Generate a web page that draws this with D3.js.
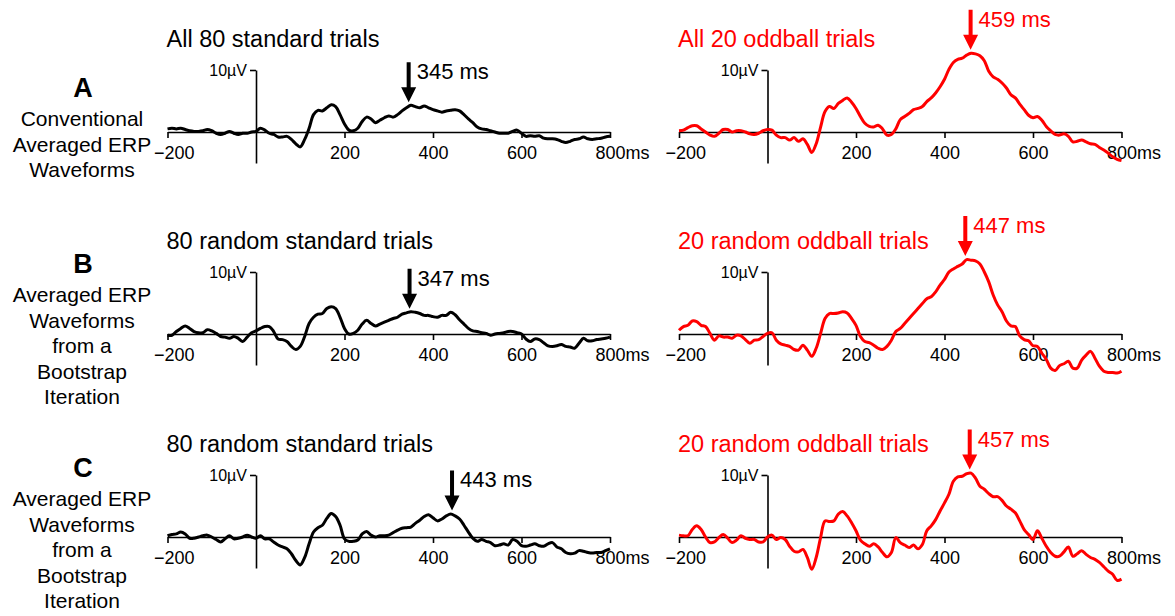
<!DOCTYPE html>
<html>
<head>
<meta charset="utf-8">
<script src="https://cdn.jsdelivr.net/npm/d3@7"></script>
<style>
body { margin:0; background:#fff; }
svg { display:block; font-family:"Liberation Sans", Arial, Helvetica, sans-serif; }
</style>
</head>
<body>
<svg width="1175" height="616"></svg>
<script>
// sample grid in ms, one value every 10 ms
var times = d3.range(-200, 801, 10)

var xTicks = [-200, 200, 400, 600, 800]

var rowLetters = ["A", "B", "C"]
var rowCaptions = [
    ["Conventional", "Averaged ERP", "Waveforms"],
    ["Averaged ERP", "Waveforms", "from a", "Bootstrap", "Iteration"],
    ["Averaged ERP", "Waveforms", "from a", "Bootstrap", "Iteration"]
]

var stdTitles = ["All 80 standard trials", "80 random standard trials", "80 random standard trials"]
var oddTitles = ["All 20 oddball trials", "20 random oddball trials", "20 random oddball trials"]

var stdPeaks = [345, 347, 443]
var oddPeaks = [459, 447, 457]
var stdPeakAmp = [4.3, 3.6, 3.8]
var oddPeakAmp = [12.8, 12.1, 10.4]

// microvolts, -200..800 ms
var stdA = [
    0.5, 0.6, 0.5, 0.6, 0.4, 0.2, 0.1, 0.1, 0.2, 0.4,
    0.2, -0.2, -0.4, -0.2, 0.1, -0.2, -0.4, -0.2, -0.2, 0,
    0.1, 0.6, 0.3, -0.2, -0.4, -0.8, -0.8, -0.7, -1.2, -1.9,
    -2.4, -1.2, 0.6, 2.8, 3.5, 3.4, 3.9, 4.4, 4.1, 2.8,
    1.3, 0.3, 0.2, 0.6, 1.7, 2.4, 2.1, 1.5, 1.9, 2.3,
    2.6, 2.4, 2.8, 3.4, 3.9, 4.3, 4.1, 3.9, 4.2, 3.9,
    3.6, 3.4, 3.2, 3.4, 3.5, 3.6, 3.4, 2.8, 2.1, 1.5,
    0.8, 0.5, 0.4, 0.2, 0, -0.2, -0.2, -0.2, 0.1, 0.3,
    -0.2, -0.7, -0.6, -0.7, -0.6, -1.0, -1.1, -1.1, -1.2, -1.5,
    -1.7, -1.5, -1.2, -1.1, -0.8, -1.1, -1.2, -1.1, -1.0, -0.8,
    -0.7
]
var oddA = [
    0.2, 0.3, 0.7, 1.0, 1.0, 0.5, 0, -0.5, -0.7, -0.2,
    0.4, 0.4, 0, 0.2, 0.2, 0, -0.3, -0.4, -0.2, 0.2,
    0.4, 0.3, -0.5, -0.9, -0.9, -1.3, -0.9, -1.5, -1.1, -2.0,
    -3.3, -1.9, 0.8, 3.3, 4.1, 3.8, 4.6, 5.1, 5.5, 4.8,
    3.8, 2.5, 1.4, 0.9, 0.8, 1.1, 0.5, -0.5, -0.4, 0.5,
    2.0, 2.5, 3.0, 3.6, 3.8, 4.1, 4.9, 5.5, 6.3, 7.3,
    8.5, 10.1, 11.2, 11.7, 11.9, 12.4, 12.7, 12.6, 12.3, 11.5,
    9.8, 8.9, 8.5, 7.9, 7.1, 6.0, 5.5, 4.5, 3.6, 2.7,
    2.3, 2.5, 1.9, 0.9, 0.2, -0.4, -0.5, -0.3, -0.7, -1.6,
    -1.5, -1.3, -1.6, -1.9, -2.0, -2.5, -2.9, -3.4, -4.0, -4.4,
    -4.6
]
var stdB = [
    -0.2, -0.2, 0.4, 0.9, 1.3, 0.9, 0.4, 0.2, 0.2, 0.7,
    0.5, 0.1, -0.4, -0.5, -0.7, -0.4, -0.7, -1.2, -0.5, 0.2,
    0.5, 0.9, 1.2, 1.2, 0.4, -0.8, -0.9, -1.2, -2.0, -2.5,
    -2.0, -0.4, 1.7, 2.7, 3.2, 3.3, 4.1, 4.4, 4.1, 2.7,
    0.9, 0, 0.1, 0.6, 1.6, 2.2, 1.7, 1.3, 1.6, 1.9,
    2.2, 2.5, 2.7, 3.2, 3.4, 3.6, 3.5, 3.3, 3.0, 3.0,
    2.8, 2.7, 3.0, 3.0, 3.5, 3.1, 2.3, 1.6, 0.9, 0.5,
    0.4, 0.2, 0.1, -0.2, 0, 0.1, 0.2, 0.4, 0.4, 0.2,
    0, -0.8, -1.2, -0.8, -0.9, -1.4, -1.9, -2.0, -1.9, -1.7,
    -2.0, -2.1, -2.3, -1.5, -0.7, -1.1, -1.1, -0.9, -0.8, -0.7,
    -0.5
]
var oddB = [
    0.6, 1.2, 1.4, 2.1, 2.0, 1.4, 1.2, 0.1, -1.0, -0.3,
    -0.5, -0.5, -0.7, -0.2, -0.3, -0.9, -1.5, -1.0, -0.9, -0.4,
    0.1, 0.2, -1.0, -1.6, -1.8, -2.0, -2.5, -2.6, -1.8, -2.6,
    -3.6, -2.3, 0.1, 2.5, 3.3, 3.3, 3.4, 3.6, 3.4, 2.5,
    1.4, -0.4, -1.2, -1.4, -1.8, -2.3, -2.5, -2.0, -1.0, 0.4,
    0.9, 1.7, 2.5, 3.3, 4.1, 4.9, 5.7, 6.0, 6.8, 7.9,
    8.8, 10.0, 10.5, 10.9, 11.3, 12.0, 11.9, 11.8, 11.3, 10.0,
    8.4, 6.3, 4.7, 3.6, 2.1, 1.3, 1.2, -0.3, -0.9, -1.1,
    -1.9, -2.0, -3.1, -4.1, -5.5, -5.9, -5.1, -4.8, -4.4, -5.5,
    -5.5, -4.2, -3.4, -2.8, -3.9, -5.2, -6.0, -6.2, -6.2, -6.3,
    -6.0
]
var stdC = [
    0.2, 0.4, 0.5, 0.8, 0.5, -0.2, -0.2, 0, 0.2, 0.3,
    0, -0.4, -0.8, -0.3, 0.2, -0.3, -0.2, 0, 0.3, 0,
    -0.2, 0.2, -0.3, -0.3, -0.8, -1.3, -1.6, -1.9, -2.7, -3.8,
    -4.5, -3.3, -1.1, 0.8, 1.5, 1.9, 3.0, 3.8, 3.3, 1.9,
    -0.3, -0.7, -0.7, -0.5, 0.5, 0.9, 0.3, 0, 0.2, 0.2,
    0.3, 0.7, 1.1, 1.4, 1.5, 1.6, 2.2, 2.7, 3.3, 3.6,
    3.1, 2.6, 2.9, 3.4, 3.7, 3.4, 2.9, 1.9, 0.8, -0.2,
    -0.7, -0.4, -0.7, -0.9, -1.4, -1.3, -1.1, -1.3, -0.4, -0.7,
    -1.4, -1.5, -1.3, -1.1, -1.4, -1.5, -1.1, -0.9, -1.6, -1.9,
    -2.5, -2.7, -2.6, -2.2, -2.3, -2.5, -2.6, -2.5, -2.5, -2.2,
    -1.9
]
var oddC = [
    0.3, 0.2, 0.2, 1.2, 1.8, 1.2, 0, -0.9, -0.8, -0.1,
    0.4, -0.2, -0.9, -0.5, 0.2, -0.2, -0.4, -0.4, -0.8, -0.8,
    0, 0.3, -0.4, -0.1, -0.4, -1.5, -2.3, -2.4, -2.0, -3.3,
    -5.2, -3.3, -0.1, 2.6, 2.5, 2.6, 3.7, 4.1, 3.4, 2.3,
    1.0, -0.5, -1.1, -1.5, -1.1, -1.6, -2.5, -3.2, -2.5, -0.1,
    -0.9, -1.3, -1.7, -1.3, -1.9, -1.2, 1.0, 1.8, 2.8, 4.2,
    5.5, 6.9, 9.0, 9.7, 9.8, 10.2, 10.3, 9.5, 8.2, 7.7,
    7.0, 6.5, 6.5, 5.9, 5.0, 4.5, 3.9, 2.6, 1.2, 0.4,
    -0.4, 1.0, -0.2, -1.5, -2.5, -3.1, -3.1, -2.4, -1.6, -3.1,
    -2.7, -2.2, -2.8, -3.3, -3.6, -4.1, -4.8, -5.5, -6.0, -7.0,
    -6.8
]

var screen = {width:1175, height:616}
var zeroY = [132, 334, 537]
var axisX = [256, 767.5]
var colours = ["#000000", "#ff0000"]
var letterY = [97, 273, 477]

var svg = d3.select("svg")
    .attr("width", screen.width)
    .attr("height", screen.height)

var drawPanel = function(row, col, values, title, peak, amp)
{
    var colour = colours[col]
    // 200 ms = 88.5 px, 10 uV = 62 px
    var xScale = d3.scaleLinear().domain([-200, 800]).range([axisX[col] - 88.5, axisX[col] + 354])
    var yScale = d3.scaleLinear().domain([-5, 10]).range([zeroY[row] + 31, zeroY[row] - 62])

    var g = svg.append("g").attr("class", "panel")

    var xAxis = d3.axisBottom(xScale)
        .tickValues(xTicks)
        .tickSize(6)
        .tickSizeOuter(0)
        .tickPadding(8)
        .tickFormat(d3.format("d"))

    var xg = g.append("g")
        .attr("transform", "translate(0," + yScale(0) + ")")
        .call(xAxis)
    xg.attr("font-family", null).attr("font-size", 18)
    xg.selectAll("path,line").attr("stroke", "#000").attr("stroke-width", 1.6)
    xg.selectAll("text").attr("fill", "#000")
    xg.selectAll(".tick text")
        .filter(function(d) { return d == 800 })
        .each(function() {
            var w = this.getSubStringLength(0, 3)
            d3.select(this).text("800ms").attr("text-anchor", "start").attr("x", -w / 2)
        })
    // centre the digits of -200 on the tick, minus sign hangs left
    xg.selectAll(".tick text")
        .filter(function(d) { return d == -200 })
        .each(function() {
            var m = this.getSubStringLength(0, 1)
            d3.select(this).attr("x", m / 2 + 1)
        })

    var yAxis = d3.axisLeft(yScale)
        .tickValues([10])
        .tickSize(6)
        .tickSizeOuter(0)
        .tickPadding(3)
        .tickFormat(function() { return "10µV" })

    var yg = g.append("g")
        .attr("transform", "translate(" + xScale(0) + ",0)")
        .call(yAxis)
    yg.attr("font-family", null).attr("font-size", 16)
    yg.selectAll("path,line").attr("stroke", "#000").attr("stroke-width", 1.6)
    yg.selectAll("text").attr("fill", "#000")

    var lineGenerator = d3.line()
        .x(function(v, i) { return xScale(times[i]) })
        .y(function(v) { return yScale(v) })
        .curve(d3.curveCatmullRom.alpha(0.5))

    g.append("path")
        .datum(values)
        .attr("d", lineGenerator)
        .attr("fill", "none")
        .attr("stroke", colour)
        .attr("stroke-width", 3)
        .attr("stroke-linejoin", "round")

    // title
    g.append("text")
        .attr("x", xScale(-200) - 1)
        .attr("y", zeroY[row] - 85)
        .attr("font-size", 23.5)
        .attr("fill", colour)
        .text(title)

    // peak arrow
    var ax = xScale(peak)
    var tip = yScale(amp) - 3
    var top = tip - 40
    var head = 15
    var arrow = d3.path()
    arrow.moveTo(ax - 2, top)
    arrow.lineTo(ax + 2, top)
    arrow.lineTo(ax + 2, tip - head)
    arrow.lineTo(ax + 7.5, tip - head)
    arrow.lineTo(ax, tip)
    arrow.lineTo(ax - 7.5, tip - head)
    arrow.lineTo(ax - 2, tip - head)
    arrow.closePath()
    g.append("path").attr("d", arrow.toString()).attr("fill", colour)

    g.append("text")
        .attr("x", ax + 8)
        .attr("y", top + 17)
        .attr("font-size", 22)
        .attr("fill", colour)
        .text(peak + " ms")
}

var series = [[stdA, oddA], [stdB, oddB], [stdC, oddC]]

rowLetters.forEach(function(letter, r)
{
    svg.append("text")
        .attr("x", 83)
        .attr("y", letterY[r])
        .attr("text-anchor", "middle")
        .attr("font-weight", "bold")
        .attr("font-size", 27)
        .text(letter)

    svg.append("g")
        .selectAll("text")
        .data(rowCaptions[r])
        .enter()
        .append("text")
        .attr("x", 82)
        .attr("y", function(d, i) { return letterY[r] + 29 + i * 25.5 })
        .attr("text-anchor", "middle")
        .attr("font-size", 21)
        .text(function(d) { return d })

    drawPanel(r, 0, series[r][0], stdTitles[r], stdPeaks[r], stdPeakAmp[r])
    drawPanel(r, 1, series[r][1], oddTitles[r], oddPeaks[r], oddPeakAmp[r])
})
</script>
</body>
</html>
